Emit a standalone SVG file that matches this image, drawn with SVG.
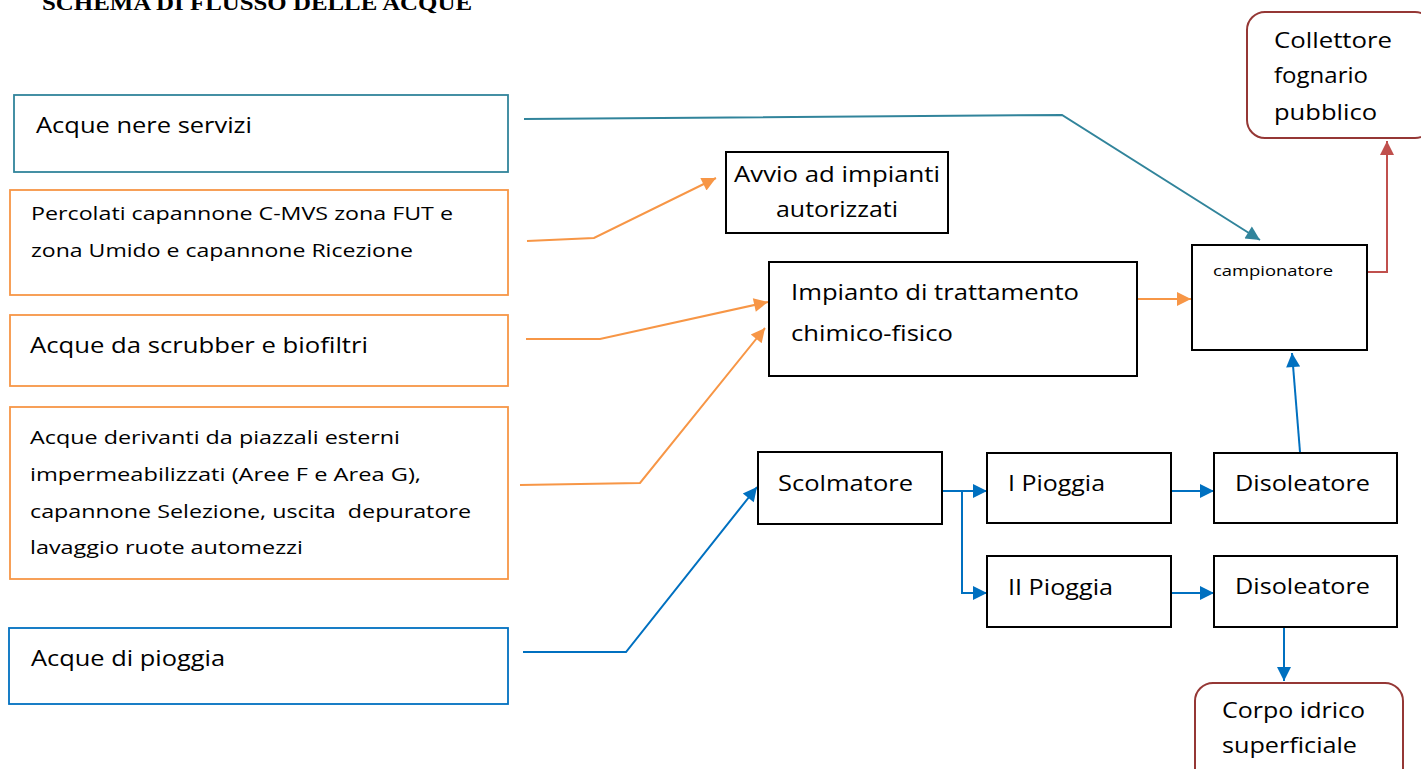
<svg xmlns="http://www.w3.org/2000/svg" width="1421" height="769" viewBox="0 0 1421 769">
<style>
.t{font-family:"Open Sans","Liberation Sans",sans-serif;fill:#000;}
.box{fill:#fff;stroke:#000;stroke-width:2;}
.teal{fill:#fff;stroke:#31849B;stroke-width:1.8;}
.org{fill:#fff;stroke:#F79646;stroke-width:1.8;}
.blu{fill:#fff;stroke:#0070C0;stroke-width:1.8;}
.rnd{fill:#fff;stroke:#953735;stroke-width:2;}
.c{fill:none;stroke-width:2;}
</style>
<defs>
<marker id="aT" viewBox="0 0 10 10" refX="10" refY="5" markerWidth="16" markerHeight="14" markerUnits="userSpaceOnUse" orient="auto"><path d="M0,0 L10,5 L0,10 z" fill="#31849B"/></marker>
<marker id="aO" viewBox="0 0 10 10" refX="10" refY="5" markerWidth="16" markerHeight="14" markerUnits="userSpaceOnUse" orient="auto"><path d="M0,0 L10,5 L0,10 z" fill="#F79646"/></marker>
<marker id="aB" viewBox="0 0 10 10" refX="10" refY="5" markerWidth="16" markerHeight="14" markerUnits="userSpaceOnUse" orient="auto"><path d="M0,0 L10,5 L0,10 z" fill="#0070C0"/></marker>
<marker id="aR" viewBox="0 0 10 10" refX="10" refY="5" markerWidth="16" markerHeight="14" markerUnits="userSpaceOnUse" orient="auto"><path d="M0,0 L10,5 L0,10 z" fill="#C0504D"/></marker>
</defs>
<rect width="1421" height="769" fill="#fff"/>
<text x="42" y="10" font-family="Liberation Serif, serif" font-weight="bold" font-size="22" textLength="430" lengthAdjust="spacingAndGlyphs">SCHEMA DI FLUSSO DELLE ACQUE</text>

<g id="connectors">
<path class="c" stroke="#31849B" d="M524,119 L1062,115 L1260,240" marker-end="url(#aT)"/>
<path class="c" stroke="#F79646" d="M527,241 L594,238 L716,178" marker-end="url(#aO)"/>
<path class="c" stroke="#F79646" d="M526,339 L600,339 L768,302" marker-end="url(#aO)"/>
<path class="c" stroke="#F79646" d="M520,485 L640,483 L765,328" marker-end="url(#aO)"/>
<path class="c" stroke="#F79646" d="M1138,299 L1191,299" marker-end="url(#aO)"/>
<path class="c" stroke="#0070C0" d="M523,652 L626,652 L757,487" marker-end="url(#aB)"/>
<path class="c" stroke="#0070C0" d="M942,491 L987,491" marker-end="url(#aB)"/>
<path class="c" stroke="#0070C0" d="M962,491 L962,593 L987,593" marker-end="url(#aB)"/>
<path class="c" stroke="#0070C0" d="M1170,491 L1214,491" marker-end="url(#aB)"/>
<path class="c" stroke="#0070C0" d="M1170,593 L1214,593" marker-end="url(#aB)"/>
<path class="c" stroke="#0070C0" d="M1300,452 L1292,353" marker-end="url(#aB)"/>
<path class="c" stroke="#0070C0" d="M1284,627 L1284,681" marker-end="url(#aB)"/>
<path class="c" stroke="#C0504D" stroke-width="3" d="M1366,272 L1387,272 L1387,141" marker-end="url(#aR)"/>
</g>

<g id="acque-nere">
<rect class="teal" x="14" y="95" width="494" height="77"/>
<text class="t" x="36" y="133" font-size="21" textLength="216" lengthAdjust="spacingAndGlyphs">Acque nere servizi</text>
</g>
<g id="percolati">
<rect class="org" x="10" y="190" width="498" height="105"/>
<text class="t" x="31" y="220" font-size="19" textLength="422" lengthAdjust="spacingAndGlyphs">Percolati capannone C-MVS zona FUT e</text>
<text class="t" x="31" y="257" font-size="19" textLength="382" lengthAdjust="spacingAndGlyphs">zona Umido e capannone Ricezione</text>
</g>
<g id="scrubber">
<rect class="org" x="10" y="315" width="498" height="71"/>
<text class="t" x="30" y="353" font-size="21" textLength="338" lengthAdjust="spacingAndGlyphs">Acque da scrubber e biofiltri</text>
</g>
<g id="derivanti">
<rect class="org" x="10" y="407" width="498" height="172"/>
<text class="t" x="30" y="444" font-size="19" textLength="370" lengthAdjust="spacingAndGlyphs">Acque derivanti da piazzali esterni</text>
<text class="t" x="30" y="481" font-size="19" textLength="391" lengthAdjust="spacingAndGlyphs">impermeabilizzati (Aree F e Area G),</text>
<text class="t" x="30" y="518" font-size="19" textLength="441" lengthAdjust="spacingAndGlyphs" xml:space="preserve">capannone Selezione, uscita  depuratore</text>
<text class="t" x="30" y="554" font-size="19" textLength="273" lengthAdjust="spacingAndGlyphs">lavaggio ruote automezzi</text>
</g>
<g id="pioggia">
<rect class="blu" x="9" y="628" width="499" height="76"/>
<text class="t" x="31" y="666" font-size="22" textLength="194" lengthAdjust="spacingAndGlyphs">Acque di pioggia</text>
</g>
<g id="avvio">
<rect class="box" x="726" y="152" width="222" height="81"/>
<text class="t" x="734" y="182" font-size="21" textLength="206" lengthAdjust="spacingAndGlyphs">Avvio ad impianti</text>
<text class="t" x="776" y="217" font-size="21" textLength="122" lengthAdjust="spacingAndGlyphs">autorizzati</text>
</g>
<g id="impianto">
<rect class="box" x="769" y="262" width="368" height="114"/>
<text class="t" x="791" y="300" font-size="21" textLength="288" lengthAdjust="spacingAndGlyphs">Impianto di trattamento</text>
<text class="t" x="791" y="341" font-size="21" textLength="162" lengthAdjust="spacingAndGlyphs">chimico-fisico</text>
</g>
<g id="campionatore">
<rect class="box" x="1192" y="245" width="175" height="105"/>
<text class="t" x="1213" y="276" font-size="14.5" textLength="120" lengthAdjust="spacingAndGlyphs">campionatore</text>
</g>
<g id="collettore">
<rect class="rnd" x="1247" y="12" width="186" height="126" rx="18"/>
<text class="t" x="1274" y="48" font-size="21" textLength="118" lengthAdjust="spacingAndGlyphs">Collettore</text>
<text class="t" x="1274" y="83" font-size="21" textLength="94" lengthAdjust="spacingAndGlyphs">fognario</text>
<text class="t" x="1274" y="120" font-size="21" textLength="103" lengthAdjust="spacingAndGlyphs">pubblico</text>
</g>
<g id="scolmatore">
<rect class="box" x="758" y="452" width="184" height="72"/>
<text class="t" x="778" y="491" font-size="21" textLength="135" lengthAdjust="spacingAndGlyphs">Scolmatore</text>
</g>
<g id="prima-pioggia">
<rect class="box" x="987" y="453" width="184" height="70"/>
<text class="t" x="1008" y="491" font-size="21" textLength="97" lengthAdjust="spacingAndGlyphs">I Pioggia</text>
</g>
<g id="seconda-pioggia">
<rect class="box" x="987" y="556" width="184" height="71"/>
<text class="t" x="1008" y="595" font-size="21" textLength="105" lengthAdjust="spacingAndGlyphs">II Pioggia</text>
</g>
<g id="disoleatore-1">
<rect class="box" x="1214" y="453" width="183" height="70"/>
<text class="t" x="1235" y="491" font-size="21" textLength="135" lengthAdjust="spacingAndGlyphs">Disoleatore</text>
</g>
<g id="disoleatore-2">
<rect class="box" x="1214" y="556" width="183" height="71"/>
<text class="t" x="1235" y="594" font-size="21" textLength="135" lengthAdjust="spacingAndGlyphs">Disoleatore</text>
</g>
<g id="corpo-idrico">
<rect class="rnd" x="1195" y="683" width="208" height="110" rx="18"/>
<text class="t" x="1222" y="718" font-size="21" textLength="143" lengthAdjust="spacingAndGlyphs">Corpo idrico</text>
<text class="t" x="1222" y="753" font-size="21" textLength="135" lengthAdjust="spacingAndGlyphs">superficiale</text>
</g>
</svg>
